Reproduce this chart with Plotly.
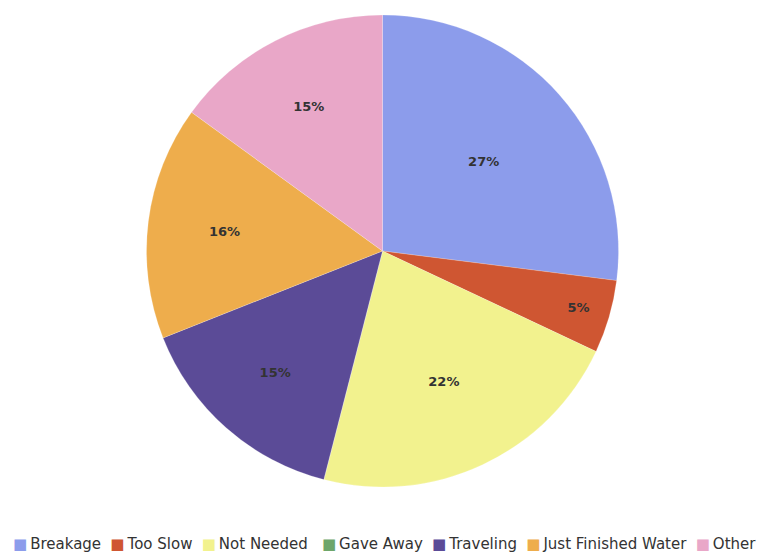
import plotly.graph_objects as go

# Reasons given, with their share of responses (percent)
reasons = ["Breakage", "Too Slow", "Not Needed", "Gave Away", "Traveling",
           "Just Finished Water", "Other"]
shares = [27, 5, 22, 0, 15, 16, 15]
colors = ["#8c9ceb", "#cf5632", "#f2f28e", "#6ea66a", "#5b4b97", "#eead4c", "#e9a7c8"]

labels_text = [f"{v}%" if v > 0 else "" for v in shares]

fig = go.Figure(go.Pie(
    labels=reasons,
    values=shares,
    text=labels_text,
    textinfo="text",
    textposition="inside",
    insidetextorientation="horizontal",
    textfont=dict(family="DejaVu Sans", size=13, color="#333333", weight="bold"),
    marker=dict(colors=colors, line=dict(color="rgba(255,255,255,0.4)", width=0.5)),
    sort=False,
    direction="clockwise",
    rotation=0,
    domain=dict(x=[146 / 758, 619 / 758], y=[1 - 487 / 553, 1 - 15 / 553]),
    hoverinfo="label+percent",
    showlegend=False,
))

# Single-row legend: coloured square followed by the category name
NBSP = "\u00a0"
THIN = "\u2009"
HAIR = "\u200a"
legend_parts = []
for i, (name, c) in enumerate(zip(reasons, colors)):
    if i == 0:
        lead = ""
    elif name == "Gave Away":
        lead = NBSP * 2 + THIN + HAIR
    else:
        lead = NBSP + THIN + HAIR
    legend_parts.append(
        f'{lead}<span style="color:{c};font-size:15px">■</span>{THIN}{name}'
    )
fig.add_annotation(
    text="".join(legend_parts),
    x=384 / 758, xref="paper", xanchor="center",
    y=1 - 544 / 553, yref="paper", yanchor="middle",
    showarrow=False,
    font=dict(family="DejaVu Sans", size=15, color="#333333"),
)

fig.update_layout(
    width=758, height=553,
    margin=dict(l=0, r=0, t=0, b=0),
    paper_bgcolor="white",
)

fig.write_html("out.html")
